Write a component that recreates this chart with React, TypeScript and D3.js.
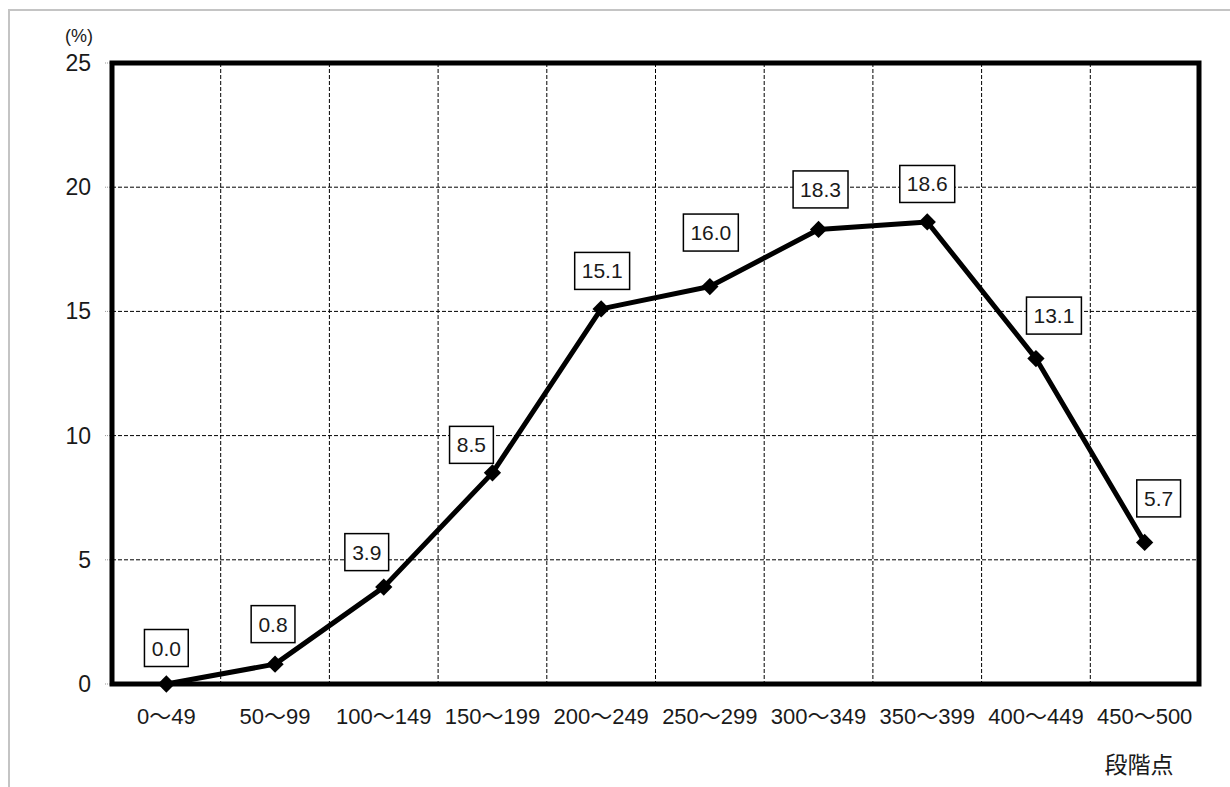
import React from 'react';
import * as d3 from 'd3';

const categories = [
  '0〜49', '50〜99', '100〜149', '150〜199', '200〜249',
  '250〜299', '300〜349', '350〜399', '400〜449', '450〜500',
];
const percents = [0.0, 0.8, 3.9, 8.5, 15.1, 16.0, 18.3, 18.6, 13.1, 5.7];
const yTicks = [0, 5, 10, 15, 20, 25];

// where each value box sits relative to its marker (hand placed in the original)
const labelShift: [number, number][] = [
  [0, -36], [-2, -40], [-17, -35], [-21, -28], [1, -38],
  [1, -54], [2, -40], [0, -38], [18, -43], [14, -44],
];

const W = 1230;
const H = 787;
const plot = {left: 112, right: 1199, top: 63, bottom: 684};
const font = '"Liberation Sans", Arial, "Noto Sans CJK JP", sans-serif';
const ink = '#1a1a1a';

export default function App() {
  const x = d3
    .scaleBand<string>()
    .domain(categories)
    .range([plot.left, plot.right]);
  const y = d3.scaleLinear().domain([0, 25]).range([plot.bottom, plot.top]);

  const pts = percents.map((v, i) => ({
    cx: (x(categories[i]) as number) + x.bandwidth() / 2,
    cy: y(v),
    v,
    i,
  }));
  const line = d3
    .line<{cx: number; cy: number}>()
    .x(d => d.cx)
    .y(d => d.cy);
  const diamond = d3.symbol().type(d3.symbolDiamond2).size(190)();

  return (
    <svg
      width={W}
      height={H}
      style={{position: 'absolute', left: 0, top: 0, background: '#fff'}}
      fontFamily={font}>
      {/* outer frame */}
      <path d={`M9,${H} V10 H${W}`} fill="none" stroke="#c4c4c4" strokeWidth={2} />

      {/* grid */}
      {yTicks.slice(1, -1).map(t => (
        <line
          key={'h' + t}
          x1={plot.left}
          x2={plot.right}
          y1={y(t)}
          y2={y(t)}
          stroke="#000"
          strokeWidth={1}
          strokeDasharray="4,2"
        />
      ))}
      {categories.slice(1).map(c => (
        <line
          key={'v' + c}
          x1={x(c)}
          x2={x(c)}
          y1={plot.top}
          y2={plot.bottom}
          stroke="#000"
          strokeWidth={1}
          strokeDasharray="4,2"
        />
      ))}

      {/* y ticks */}
      {yTicks.map(t => (
        <g key={'t' + t}>
          <line
            x1={plot.left - 7}
            x2={plot.left}
            y1={y(t)}
            y2={y(t)}
            stroke="#999"
            strokeDasharray="1,1"
          />
          <text
            x={91}
            y={y(t)}
            textAnchor="end"
            dominantBaseline="central"
            fontSize={23}
            fill={ink}>
            {t}
          </text>
        </g>
      ))}
      <text x={79} y={36} textAnchor="middle" dominantBaseline="central" fontSize={18} fill={ink}>
        (%)
      </text>

      {/* plot border */}
      <rect
        x={plot.left}
        y={plot.top}
        width={plot.right - plot.left}
        height={plot.bottom - plot.top}
        fill="none"
        stroke="#000"
        strokeWidth={5}
      />

      {/* x labels */}
      {categories.map(c => (
        <text
          key={'x' + c}
          x={(x(c) as number) + x.bandwidth() / 2}
          y={716}
          textAnchor="middle"
          dominantBaseline="central"
          fontSize={22}
          fill={ink}>
          {c}
        </text>
      ))}
      <text x={1139} y={765} textAnchor="middle" dominantBaseline="central" fontSize={23} fill={ink}>
        段階点
      </text>

      {/* series */}
      <path d={line(pts) || ''} fill="none" stroke="#000" strokeWidth={5} strokeLinejoin="round" />
      {pts.map(p => (
        <path key={'m' + p.i} d={diamond || ''} transform={`translate(${p.cx},${p.cy})`} fill="#000" />
      ))}

      {/* value boxes */}
      {pts.map(p => {
        const label = p.v.toFixed(1);
        const digits = label.length - 1;
        const w = 16 + 20 * (digits * 0.556 + 0.278);
        const h = 37;
        const [dx, dy] = labelShift[p.i];
        const bx = p.cx + dx;
        const by = p.cy + dy;
        return (
          <g key={'l' + p.i}>
            <rect
              x={bx - w / 2}
              y={by - h / 2}
              width={w}
              height={h}
              fill="#fff"
              stroke="#000"
              strokeWidth={1.5}
            />
            <text
              x={bx}
              y={by}
              textAnchor="middle"
              dominantBaseline="central"
              fontSize={21}
              fill={ink}>
              {label}
            </text>
          </g>
        );
      })}
    </svg>
  );
}
